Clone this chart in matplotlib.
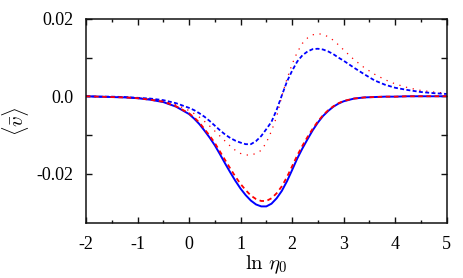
import matplotlib
matplotlib.use("Agg")
import matplotlib.pyplot as plt

plt.rcParams['font.family'] = ['Liberation Serif', 'DejaVu Serif']
plt.rcParams['mathtext.fontset'] = 'cm'

# ln(eta_0) grid and the four curves
x = [-2.0, -1.75, -1.5, -1.25, -1.0, -0.75, -0.5, -0.25,
     0.0, 0.1, 0.2, 0.3, 0.4, 0.5, 0.6, 0.7, 0.8, 0.9,
     1.0, 1.1, 1.2, 1.3, 1.4, 1.5, 1.6, 1.7, 1.8, 1.9,
     2.0, 2.1, 2.2, 2.3, 2.4, 2.5, 2.6, 2.7, 2.8, 2.9,
     3.0, 3.2, 3.4, 3.6, 3.8, 4.0, 4.25, 4.5, 4.75, 5.0]

solid_blue = [0.0, -0.0001, -0.0002, -0.0003, -0.0005, -0.0009, -0.0015, -0.0027,
              -0.0046, -0.0058, -0.0072, -0.0089, -0.0107, -0.0127, -0.0150, -0.0174, -0.0197, -0.0219,
              -0.0239, -0.0256, -0.0270, -0.0280, -0.0285, -0.0285, -0.0278, -0.0264, -0.0245, -0.0220,
              -0.0191, -0.0161, -0.0135, -0.0111, -0.0088, -0.0068, -0.0051, -0.0038, -0.0027, -0.0019,
              -0.0013, -0.0006, -0.0003, -0.0002, -0.0001, -0.0001, 0.0, 0.0, 0.0, 0.0]

dashed_red = [0.0, -0.0001, -0.0002, -0.0003, -0.0005, -0.0009, -0.0014, -0.0026,
              -0.0044, -0.0055, -0.0068, -0.0085, -0.0102, -0.0121, -0.0143, -0.0165, -0.0187, -0.0208,
              -0.0227, -0.0243, -0.0257, -0.0266, -0.0271, -0.0271, -0.0264, -0.0251, -0.0233, -0.0209,
              -0.0181, -0.0153, -0.0128, -0.0105, -0.0084, -0.0065, -0.0049, -0.0036, -0.0026, -0.0018,
              -0.0012, -0.0006, -0.0003, -0.0002, -0.0001, -0.0001, 0.0, 0.0, 0.0, 0.0]

dashed_blue = [0.0, -0.0001, -0.0001, -0.0002, -0.0004, -0.0006, -0.0010, -0.0018,
               -0.0030, -0.0036, -0.0044, -0.0053, -0.0064, -0.0076, -0.0088, -0.0099, -0.0108, -0.0115,
               -0.0120, -0.0124, -0.0124, -0.0116, -0.0103, -0.0085, -0.0066, -0.0035, 0.0002, 0.0038,
               0.0066, 0.0090, 0.0106, 0.0116, 0.0122, 0.0123, 0.0121, 0.0116, 0.0109, 0.0100,
               0.0092, 0.0074, 0.0057, 0.0041, 0.0030, 0.0022, 0.0016, 0.0011, 0.0008, 0.0006]

dotted_red = [0.0, -0.0001, -0.0001, -0.0002, -0.0004, -0.0007, -0.0012, -0.0022,
              -0.0037, -0.0045, -0.0054, -0.0065, -0.0077, -0.0090, -0.0103, -0.0116, -0.0129, -0.0140,
              -0.0148, -0.0152, -0.0152, -0.0148, -0.0140, -0.0120, -0.0090, -0.0053, 0.0000, 0.0045,
              0.0083, 0.0114, 0.0137, 0.0151, 0.0159, 0.0162, 0.0160, 0.0154, 0.0145, 0.0133,
              0.0120, 0.0095, 0.0074, 0.0057, 0.0043, 0.0032, 0.0022, 0.0015, 0.0011, 0.0008]

yticks = [-0.02, -0.01, 0.0, 0.01, 0.02]
ytick_labels = ['-0.02', '', '0.0', '', '0.02']
xticks = [-2, -1, 0, 1, 2, 3, 4, 5]
xtick_labels = ['-2', '-1', '0', '1', '2', '3', '4', '5']
xminor = [-1.5, -0.5, 0.5, 1.5, 2.5, 3.5, 4.5]

fig = plt.figure(figsize=(4.63, 2.78), dpi=100)
ax = fig.add_axes([0.1857, 0.1978, 0.7791, 0.7339])

ax.plot(x, dotted_red, color='#ff0000', lw=0.9, dashes=(1, 4.5))
ax.plot(x, dashed_blue, color='#0000ff', lw=1.3, dashes=(2.2, 1.3))
ax.plot(x, solid_blue, color='#0000ff', lw=1.4)
ax.plot(x, dashed_red, color='#ff0000', lw=1.3, dashes=(2.5, 2))

ax.set_xlim(-2, 5)
ax.set_ylim(-0.0328, 0.02)
ax.set_xticks(xticks)
ax.set_xticklabels(xtick_labels)
ax.set_xticks(xminor, minor=True)
ax.set_yticks(yticks)
ax.set_yticklabels(ytick_labels)

ax.tick_params(which='both', direction='in', top=True, right=True,
               labelsize=13, width=1.0, color='#111111')
ax.tick_params(which='major', length=4.5, pad=9)
ax.tick_params(which='minor', length=2.2)
for s in ax.spines.values():
    s.set_linewidth(1.1)
    s.set_color('#111111')

ax.set_xlabel(r'$\ln\,\eta_0$', fontsize=15, labelpad=1)
ax.set_ylabel(r'$\langle\bar{v}\rangle$', fontsize=15, labelpad=4)

fig.savefig('out.png', dpi=100)
